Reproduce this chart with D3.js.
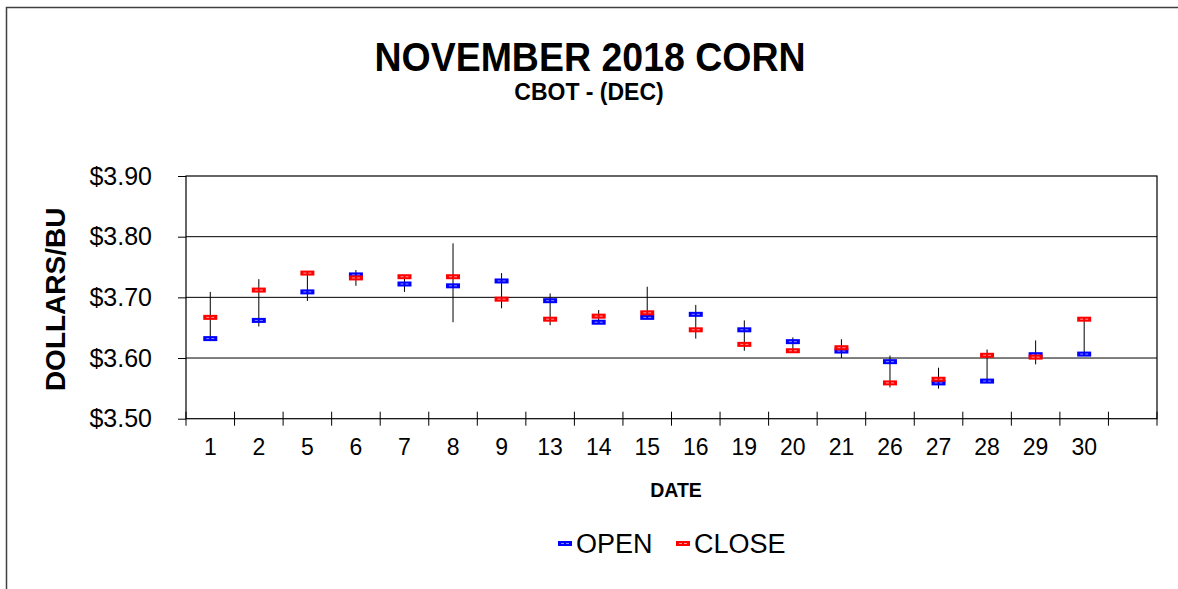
<!DOCTYPE html>
<html>
<head>
<meta charset="utf-8">
<script src="https://cdn.jsdelivr.net/npm/d3@7"></script>
<style>
  body { margin: 0; background: #fff; }
  svg { font-family: "Liberation Sans", Arial, sans-serif; }
</style>
</head>
<body>
<div id="chart"></div>
<script>
const dates = ["1", "2", "5", "6", "7", "8", "9", "13", "14", "15", "16", "19", "20", "21", "26", "27", "28", "29", "30"];
const openVals  = [3.632, 3.662, 3.709, 3.737, 3.722, 3.719, 3.727, 3.6945, 3.659, 3.667, 3.672, 3.6465, 3.627, 3.6115, 3.594, 3.559, 3.562, 3.6055, 3.6065];
const highVals  = [3.709, 3.730, 3.741, 3.745, 3.736, 3.789, 3.740, 3.7065, 3.679, 3.7175, 3.6875, 3.662, 3.634, 3.631, 3.604, 3.584, 3.614, 3.629, 3.664];
const lowVals   = [3.630, 3.652, 3.694, 3.719, 3.709, 3.659, 3.682, 3.654, 3.659, 3.666, 3.632, 3.612, 3.611, 3.600, 3.5515, 3.5495, 3.561, 3.5895, 3.6065];
const closeVals = [3.667, 3.712, 3.740, 3.732, 3.734, 3.734, 3.697, 3.664, 3.669, 3.6745, 3.6465, 3.6225, 3.612, 3.617, 3.559, 3.565, 3.6045, 3.6015, 3.664];
const yTicks = [3.5, 3.6, 3.7, 3.8, 3.9];

const width = 1178, height = 589;
const svg = d3.select("#chart").append("svg").attr("width", width).attr("height", height);

// outer frame (runs off the right/bottom like the original)
svg.append("rect")
  .attr("x", 6.5).attr("y", 7.5)
  .attr("width", width + 10).attr("height", height + 10)
  .attr("fill", "none").attr("stroke", "#404040").attr("stroke-width", 1.5);

const plotL = 186, plotR = 1157, plotT = 176, plotB = 418.7;

// one empty slot at the end, as in the original
const x = d3.scaleBand().domain(dates.concat([" "])).range([plotL, plotR]).padding(0);
const y = d3.scaleLinear().domain([3.5, 3.9]).range([plotB, plotT]);

// gridlines
svg.append("g").selectAll("line").data(yTicks.slice(1, 4)).join("line")
  .attr("x1", plotL).attr("x2", plotR)
  .attr("y1", d => y(d)).attr("y2", d => y(d))
  .attr("stroke", "#000").attr("stroke-width", 1);

// plot border
svg.append("rect")
  .attr("x", plotL).attr("y", plotT)
  .attr("width", plotR - plotL).attr("height", plotB - plotT)
  .attr("fill", "none").attr("stroke", "#000").attr("stroke-width", 1.2);

// y axis
const yAxis = svg.append("g")
  .attr("transform", `translate(${plotL},0)`)
  .call(d3.axisLeft(y).tickValues(yTicks).tickFormat(d => "$" + d.toFixed(2)).tickSize(8).tickPadding(26));
yAxis.select(".domain").remove();
yAxis.selectAll("line").attr("stroke", "#000");
yAxis.selectAll("text")
  .style("font-size", "25px").style("font-family", "'Liberation Sans', Arial, sans-serif")
  .attr("fill", "#000");

// x axis: labels centred in bands, ticks on band edges
const xAxis = svg.append("g")
  .attr("transform", `translate(0,${plotB})`)
  .call(d3.axisBottom(x).tickSize(0).tickPadding(20));
xAxis.select(".domain").remove();
xAxis.selectAll("text")
  .style("font-size", "23px").style("font-family", "'Liberation Sans', Arial, sans-serif")
  .attr("fill", "#000");

const edges = x.domain().map(d => x(d)).concat([plotR]);
svg.append("g").selectAll("line").data(edges).join("line")
  .attr("x1", d => d).attr("x2", d => d)
  .attr("y1", plotB - 7).attr("y2", plotB + 7)
  .attr("stroke", "#000").attr("stroke-width", 1);

// high-low lines
const rows = dates.map((d, i) => ({ d, o: openVals[i], h: highVals[i], l: lowVals[i], c: closeVals[i] }));
const cx = d => x(d) + x.bandwidth() / 2;

svg.append("g").selectAll("line").data(rows).join("line")
  .attr("x1", r => cx(r.d)).attr("x2", r => cx(r.d))
  .attr("y1", r => y(r.h)).attr("y2", r => y(r.l))
  .attr("stroke", "#000").attr("stroke-width", 1);

function marker(g, px, py, color, light) {
  g.append("rect")
    .attr("x", px - 7).attr("y", py - 2.5)
    .attr("width", 14).attr("height", 5)
    .attr("fill", color);
  g.append("line")
    .attr("x1", px - 4).attr("x2", px + 4)
    .attr("y1", py).attr("y2", py)
    .attr("stroke", light).attr("stroke-width", 1)
    .attr("stroke-dasharray", "3,2");
}

const openG = svg.append("g");
rows.forEach(r => marker(openG, cx(r.d), y(r.o), "#0000ff", "#8c8cff"));
const closeG = svg.append("g");
rows.forEach(r => marker(closeG, cx(r.d), y(r.c), "#ff0000", "#ff9a9a"));

// titles (slightly taller than wide, like the source)
svg.append("text")
  .attr("transform", "translate(590,71) scale(1,1.08)")
  .text("NOVEMBER 2018 CORN")
  .style("font-size", "37.5px").style("font-weight", "bold")
  .style("text-anchor", "middle");

svg.append("text")
  .attr("transform", "translate(589,100) scale(1,1.08)")
  .text("CBOT - (DEC)")
  .style("font-size", "23px").style("font-weight", "bold")
  .style("text-anchor", "middle");

svg.append("text")
  .attr("transform", `translate(65,${(plotT + plotB) / 2 + 2}) rotate(-90)`)
  .text("DOLLARS/BU")
  .style("font-size", "28px").style("font-weight", "bold")
  .style("text-anchor", "middle");

svg.append("text")
  .attr("x", 676).attr("y", 497)
  .text("DATE")
  .style("font-size", "19.5px").style("font-weight", "bold")
  .style("text-anchor", "middle");

// legend
const legend = svg.append("g");
marker(legend, 565, 543.5, "#0000ff", "#8c8cff");
legend.append("text").attr("x", 576).attr("y", 553).text("OPEN").style("font-size", "27px");
marker(legend, 683, 543.5, "#ff0000", "#ff9a9a");
legend.append("text").attr("x", 694).attr("y", 553).text("CLOSE").style("font-size", "27px");
</script>
</body>
</html>
